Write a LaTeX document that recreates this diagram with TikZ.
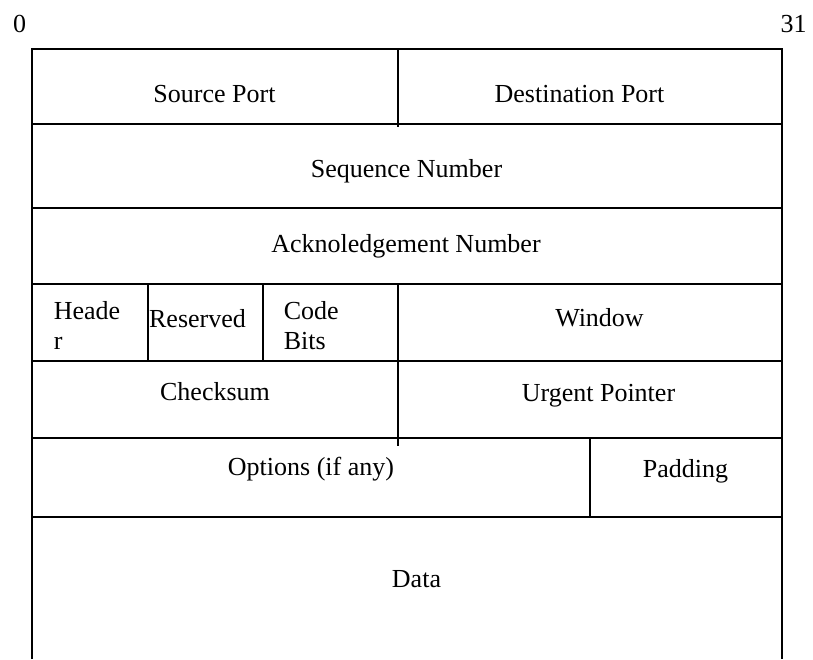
\documentclass[tikz,border=0pt]{standalone}
\usepackage{fontspec}
\setmainfont{Liberation Serif}

\begin{document}
\begin{tikzpicture}[x=1pt,y=-1pt,line width=1.6pt,
  field/.style={anchor=base,inner sep=0pt,font=\fontsize{26}{30}\selectfont},
  fieldleft/.style={field,anchor=base west}]
\useasboundingbox (0,0) rectangle (813,659);
% Bit numbers
\node[field] (bitlow) at (19.5,32) {0};
\node[field] (bithigh) at (793.5,32) {31};
% Frame (open at the bottom)
\draw (32,659) -- (32,49) -- (782,49) -- (782,659);
% Row lines
\foreach \y in {124,208,284,361,438,517}
  \draw (32,\y) -- (782,\y);
% Column dividers
\draw (398,49) -- (398,127);
\draw (398,284) -- (398,446);
\draw (148,284) -- (148,361);
\draw (263,284) -- (263,361);
\draw (590,438) -- (590,517);
% Field names
\node[field] (srcport) at (214.5,102) {Source Port};
\node[field] (dstport) at (579.5,102) {Destination Port};
\node[field] (seqnum) at (406.5,177) {Sequence Number};
\node[field] (acknum) at (406,252) {Acknoledgement Number};
\node[fieldleft] (hlenA) at (53,319) {Heade};
\node[fieldleft] (hlenB) at (53,349) {r};
\node[field] (reserved) at (197.5,327) {Reserved};
\node[fieldleft] (codeA) at (283,319) {Code};
\node[fieldleft] (codeB) at (283,349) {Bits};
\node[field] (window) at (599.5,326) {Window};
\node[field] (checksum) at (215,400) {Checksum};
\node[field] (urgent) at (598.5,401) {Urgent Pointer};
\node[field] (options) at (311,475) {Options (if any)};
\node[field] (padding) at (685.5,477) {Padding};
\node[field] (data) at (416.5,587) {Data};
\end{tikzpicture}
\end{document}
